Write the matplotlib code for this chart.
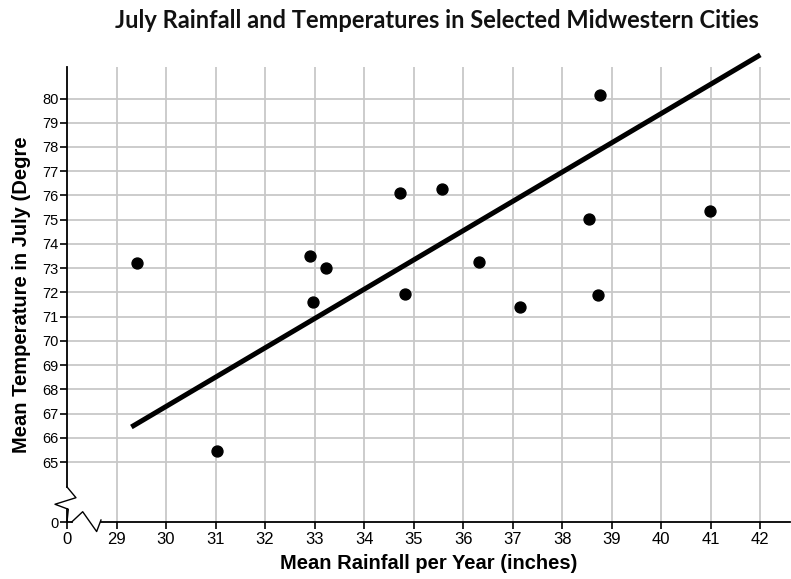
import numpy as np
import matplotlib
matplotlib.use("Agg")
import matplotlib.pyplot as plt

# data
rainfall = [29.42, 31.03, 32.90, 32.97, 33.24, 34.72, 34.82, 35.57, 36.31,
            37.15, 38.55, 38.77, 38.73, 40.98]
temperature = [73.2, 65.47, 73.5, 71.59, 73.0, 76.09, 71.95, 76.28, 73.25,
               71.39, 75.04, 80.16, 71.9, 75.35]

# trend line end points
trend_x = [29.30, 42.0]
trend_y = [66.45, 81.8]

x_ticks = list(range(29, 43))
y_ticks = list(range(65, 81))

# where the broken-axis "0" sits
X_ZERO_POS = 28
Y_ZERO_POS = 62.53

plt.rcParams['font.family'] = ['Liberation Sans', 'DejaVu Sans']

fig = plt.figure(figsize=(7.91, 5.79), dpi=100)
ax = fig.add_axes([67 / 791, (579 - 522) / 579, (790 - 67) / 791, (522 - 67) / 579])

ax.set_xlim(X_ZERO_POS, 42.6)
ax.set_ylim(Y_ZERO_POS, 81.3)

# grid
grid_col = '#c8c8c8'
for xv in x_ticks:
    ax.axvline(xv, color=grid_col, lw=1.3, zorder=0)
for yv in y_ticks:
    ax.axhline(yv, color=grid_col, lw=1.3, zorder=0)

ax.scatter(rainfall, temperature, s=62, color='black', zorder=3)
ax.plot(trend_x, trend_y, color='black', lw=3.6, solid_capstyle='butt',
        zorder=2, clip_on=False)

ax.set_xticks([X_ZERO_POS] + x_ticks)
ax.set_xticklabels(['0'] + [str(v) for v in x_ticks], fontsize=12)
ax.set_yticks([Y_ZERO_POS] + y_ticks)
ax.set_yticklabels(['0'] + [str(v) for v in y_ticks], fontsize=10.5)
ax.tick_params(axis='both', direction='out', length=5, width=1.2, color='black')
ax.tick_params(axis='x', pad=2)
ax.tick_params(axis='y', pad=1)

for sp in ax.spines.values():
    sp.set_visible(False)

# axis lines with breaks (axes fraction coords)
tr = ax.transAxes
ax.plot([0, 0], [1, 0.077], color='black', lw=1.3, transform=tr, clip_on=False)
ax.plot([0, 0.0124, -0.0166, 0.0018, 0.0018, 0], [0.077, 0.0534, 0.039, 0.028, 0.028, 0],
        color='black', lw=1.0, transform=tr, clip_on=False)
ax.plot([0, 0], [0.028, 0], color='black', lw=1.3, transform=tr, clip_on=False)
ax.plot([0, 0.0065], [0, 0], color='black', lw=1.3, transform=tr, clip_on=False)
ax.plot([0.0065, 0.0217, 0.041, 0.047], [0, 0.0226, -0.021, 0.0044],
        color='black', lw=1.0, transform=tr, clip_on=False)
ax.plot([0.047, 1], [0, 0], color='black', lw=1.3, transform=tr, clip_on=False)

ax.set_xlabel('Mean Rainfall per Year (inches)', fontsize=14.5, fontweight='bold', labelpad=5)
ax.set_ylabel('Mean Temperature in July (Degre', fontsize=14.5, fontweight='bold', labelpad=8)

fig.text(437 / 791, 1 - 21 / 579, 'July Rainfall and Temperatures in Selected Midwestern Cities',
         ha='center', va='center', fontsize=17, fontweight='bold',
         family=['Lato', 'DejaVu Sans'], color='#111111')

fig.savefig('out.png', dpi=100)
